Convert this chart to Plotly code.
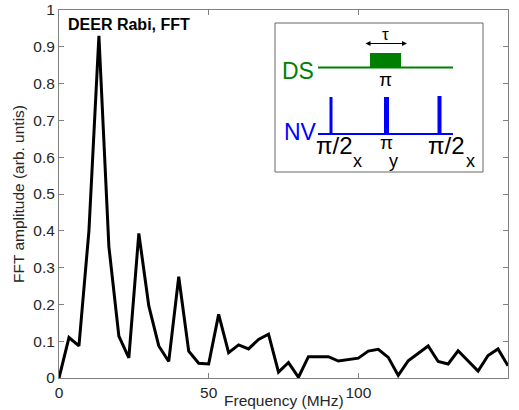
import plotly.graph_objects as go

# ---- data ----
freq_step_mhz = 10.0 / 3.0
amplitude = [0.0, 0.11, 0.087, 0.40, 0.93, 0.357, 0.114, 0.055, 0.393, 0.196,
             0.087, 0.045, 0.275, 0.073, 0.040, 0.038, 0.173, 0.069, 0.090, 0.079,
             0.105, 0.119, 0.016, 0.042, 0.002, 0.058, 0.058, 0.058, 0.046, 0.049,
             0.054, 0.073, 0.078, 0.056, 0.007, 0.047, 0.067, 0.087, 0.045, 0.038,
             0.074, 0.047, 0.019, 0.061, 0.079, 0.033]
frequency = [i * freq_step_mhz for i in range(len(amplitude))]
x_ticks = [0, 50, 100, 150]
y_ticks = [0, 0.1, 0.2, 0.3, 0.4, 0.5, 0.6, 0.7, 0.8, 0.9, 1]
y_tick_labels = ["0", "0.1", "0.2", "0.3", "0.4", "0.5", "0.6", "0.7", "0.8", "0.9", "1"]

W, H = 519, 410
ML, MR, MT, MB = 59, 11, 10, 32
FONT = "Liberation Sans, Arial, Helvetica, sans-serif"
TXT = "#262626"
AX = "#808080"

fig = go.Figure()
fig.add_trace(go.Scatter(x=frequency, y=amplitude, mode="lines",
                         line=dict(color="black", width=3), showlegend=False,
                         hoverinfo="skip"))
# hidden pixel-coordinate axes for the schematic inset
fig.add_trace(go.Scatter(x=[ML], y=[MT], xaxis="x2", yaxis="y2", mode="markers",
                         marker=dict(opacity=0), showlegend=False, hoverinfo="skip"))

axis_common = dict(showgrid=False, zeroline=False, showline=True, linecolor=AX,
                   linewidth=1, mirror="ticks", ticks="inside", ticklen=5,
                   tickcolor=AX, automargin=False,
                   tickfont=dict(family=FONT, size=15.5, color=TXT))

fig.update_layout(
    width=W, height=H,
    margin=dict(l=ML, r=MR, t=MT, b=MB, pad=0, autoexpand=False),
    paper_bgcolor="white", plot_bgcolor="white",
    xaxis=dict(range=[0, 150], tickvals=x_ticks, **axis_common),
    yaxis=dict(range=[0, 1], tickvals=y_ticks, ticktext=y_tick_labels, **axis_common),
    xaxis2=dict(range=[ML, W - MR], overlaying="x", anchor="y2", visible=False,
                fixedrange=True, automargin=False),
    yaxis2=dict(range=[H - MB, MT], overlaying="y", anchor="x2", visible=False,
                fixedrange=True, automargin=False),
)

# ---- schematic inset (pixel coordinates on x2/y2) ----
green = "#008000"
blue = "#0000ff"
shapes = [
    dict(type="rect", x0=275, x1=483, y0=23, y1=172, line=dict(color="#666666", width=1),
         fillcolor="white"),
    dict(type="line", x0=318, x1=453, y0=67.5, y1=67.5, line=dict(color=green, width=2)),
    dict(type="rect", x0=370, x1=401, y0=53, y1=67.5, line=dict(color=green, width=0),
         fillcolor=green),
    dict(type="line", x0=318, x1=453, y0=134, y1=134, line=dict(color=blue, width=2)),
    dict(type="line", x0=331, x1=331, y0=97, y1=134, line=dict(color=blue, width=3)),
    dict(type="line", x0=386.5, x1=386.5, y0=97, y1=134, line=dict(color=blue, width=5)),
    dict(type="line", x0=439.5, x1=439.5, y0=96, y1=134, line=dict(color=blue, width=4)),
]
for s in shapes:
    s.update(xref="x2", yref="y2", layer="above")
fig.update_layout(shapes=shapes)

def txt(x, y, text, size, color="black", **kw):
    fig.add_annotation(x=x, y=y, xref="x2", yref="y2", text=text, showarrow=False,
                       font=dict(family=FONT, size=size, color=color),
                       xanchor="center", yanchor="middle", **kw)

txt(298, 71, "DS", 23, green)
txt(300, 132, "NV", 23, blue)
txt(385, 34, "τ", 17)
txt(385, 79, "π", 19)
txt(334, 145, "π/2", 24)
txt(357.5, 161, "x", 18)
txt(386, 142, "π", 19)
txt(393.5, 161, "y", 18)
txt(446, 145, "π/2", 24)
txt(470, 161, "x", 18)
# double arrow for tau
fig.add_annotation(x=407, y=43.5, ax=364, ay=43.5, xref="x2", yref="y2",
                   axref="x2", ayref="y2", text="", showarrow=True,
                   arrowhead=2, arrowside="end+start", arrowwidth=1, arrowsize=1,
                   arrowcolor="black")

# ---- titles ----
fig.add_annotation(x=0, y=1, xref="paper", yref="paper", xshift=7, yshift=-14,
                   text="<b>DEER Rabi, FFT</b>", showarrow=False, xanchor="left",
                   yanchor="middle", font=dict(family=FONT, size=16, color="black"))
fig.add_annotation(x=0.5, y=0, xref="paper", yref="paper", yshift=-22,
                   text="Frequency (MHz)", showarrow=False, xanchor="center",
                   yanchor="middle", font=dict(family=FONT, size=15.5, color=TXT))
fig.add_annotation(x=0, y=0.5, xref="paper", yref="paper", xshift=-41,
                   text="FFT amplitude (arb. untis)", showarrow=False, textangle=-90,
                   xanchor="center", yanchor="middle",
                   font=dict(family=FONT, size=15.5, color=TXT))

fig.write_html("out.html")
